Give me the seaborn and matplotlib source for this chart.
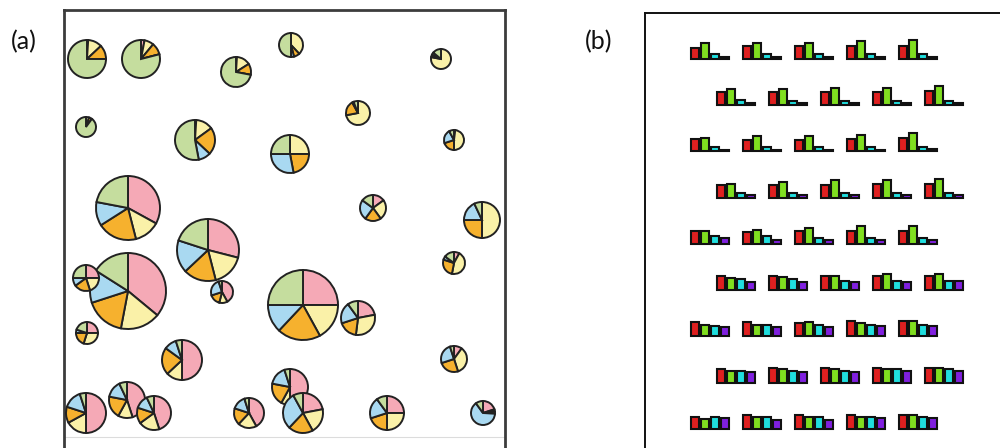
import matplotlib
matplotlib.use("Agg")
import matplotlib.pyplot as plt
import seaborn as sns
import pandas as pd

sns.set_theme(style="white")
plt.rcParams["font.family"] = ["Lato", "DejaVu Sans"]

# ---------------- panel (a): pie glyphs ----------------
# centre (x, y), radius, and wedge shares (pink, yellow, orange, blue, green)
pie_x = [23, 77, 172, 227, 22, 131, 226, 377, 294, 390, 309, 418, 64, 144,
         64, 22, 158, 23, 118, 22, 63, 90, 185, 226, 239, 294, 390, 390,
         239, 323, 419]
pie_y = [401, 401, 388, 415, 333, 320, 306, 401, 347, 320, 252, 240, 252, 210,
         169, 182, 168, 127, 100, 47, 60, 47, 47, 73, 155, 142, 197, 101,
         47, 47, 47]
pie_r = [19, 19, 15, 12, 10, 20, 19, 10, 12, 10, 13, 18, 32, 31,
         38, 13, 11, 11, 20, 20, 18, 17, 15, 18, 35, 17, 11, 13,
         20, 17, 12]
share_pink = [0.01, 0.03, 0.01, 0.00, 0.00, 0.01, 0.00, 0.00, 0.00, 0.02, 0.15, 0.00, 0.33, 0.29,
              0.36, 0.25, 0.42, 0.25, 0.50, 0.50, 0.45, 0.45, 0.42, 0.50, 0.25, 0.22, 0.08, 0.10,
              0.22, 0.25, 0.20]
share_yellow = [0.12, 0.08, 0.15, 0.38, 0.05, 0.14, 0.25, 0.78, 0.72, 0.48, 0.25, 0.50, 0.13, 0.17,
                0.17, 0.20, 0.12, 0.30, 0.13, 0.17, 0.13, 0.20, 0.20, 0.08, 0.17, 0.30, 0.45, 0.35,
                0.20, 0.25, 0.03]
share_orange = [0.12, 0.10, 0.12, 0.08, 0.05, 0.22, 0.22, 0.04, 0.20, 0.20, 0.20, 0.25, 0.20, 0.17,
                0.17, 0.20, 0.16, 0.20, 0.22, 0.13, 0.20, 0.15, 0.18, 0.20, 0.20, 0.18, 0.27, 0.25,
                0.20, 0.20, 0.03]
share_blue = [0.00, 0.00, 0.00, 0.04, 0.00, 0.10, 0.28, 0.04, 0.02, 0.22, 0.25, 0.18, 0.12, 0.17,
              0.14, 0.10, 0.25, 0.05, 0.10, 0.15, 0.15, 0.13, 0.15, 0.17, 0.13, 0.20, 0.05, 0.25,
              0.30, 0.20, 0.64]
share_green = [0.75, 0.79, 0.72, 0.50, 0.90, 0.53, 0.25, 0.14, 0.06, 0.08, 0.15, 0.07, 0.22, 0.20,
               0.16, 0.25, 0.05, 0.20, 0.05, 0.05, 0.07, 0.07, 0.05, 0.05, 0.25, 0.10, 0.15, 0.05,
               0.08, 0.10, 0.10]
pie_colors = ["#F5A9B6", "#FAF1A8", "#F6B12E", "#A9D9F1", "#C5DD9E"]

# ---------------- panel (b): bar glyphs (9 rows x 5 glyphs) ----------------
bar_red = [[11.0, 12.7, 12.7, 12.7, 12.7],
           [12.7, 12.7, 12.7, 12.7, 14.3],
           [12.3, 11.7, 11.7, 12.3, 13.3],
           [12.3, 12.3, 12.3, 14.0, 14.0],
           [12.7, 12.0, 13.3, 13.3, 13.3],
           [14.3, 14.3, 14.3, 14.3, 14.3],
           [14.0, 14.0, 13.3, 15.0, 15.0],
           [14.0, 15.0, 15.0, 15.0, 15.0],
           [12.3, 14.0, 14.0, 14.0, 14.0]]
bar_green = [[16.0, 16.0, 16.0, 17.3, 18.7],
             [16.0, 16.0, 17.3, 17.3, 18.7],
             [13.3, 15.0, 15.0, 16.7, 18.0],
             [13.3, 15.7, 17.3, 17.3, 18.3],
             [12.7, 13.7, 16.0, 17.7, 17.7],
             [12.0, 12.7, 14.3, 16.0, 16.0],
             [11.7, 11.7, 14.0, 13.3, 15.0],
             [11.7, 13.3, 13.3, 13.3, 15.0],
             [10.0, 12.3, 12.3, 11.7, 14.0]]
bar_cyan = [[4.3, 4.3, 4.3, 4.3, 4.3],
            [5.0, 4.3, 4.3, 4.3, 4.3],
            [4.3, 4.3, 4.3, 4.3, 4.3],
            [5.0, 4.3, 4.3, 4.3, 4.3],
            [7.7, 7.7, 6.0, 6.0, 6.0],
            [10.7, 10.7, 9.3, 9.3, 9.3],
            [10.0, 11.7, 11.7, 11.7, 11.7],
            [11.7, 11.7, 11.7, 13.3, 13.3],
            [11.7, 12.3, 12.3, 12.3, 12.3]]
bar_purple = [[2.0, 2.0, 2.0, 2.0, 2.0],
              [2.0, 2.0, 2.0, 2.0, 2.0],
              [1.5, 1.5, 1.5, 1.5, 2.3],
              [2.7, 2.7, 2.7, 2.7, 2.7],
              [6.0, 4.3, 4.3, 4.3, 4.3],
              [7.7, 7.7, 7.7, 7.7, 9.3],
              [9.0, 9.0, 9.0, 10.0, 10.0],
              [10.7, 10.7, 10.7, 11.7, 11.7],
              [10.7, 9.0, 9.0, 10.7, 10.7]]
bar_names = ["r", "g", "c", "p"]
bar_colors = ["#FF0000", "#80FF00", "#00FFFF", "#8000FF"]

W, H = 1000, 448
fig = plt.figure(figsize=(W / 100, H / 100), dpi=100)


def fig_box(x0, y_top, w, h):
    """Pixel box (top-left origin) to figure fractions."""
    return [x0 / W, (H - y_top - h) / H, w / W, h / H]


# ---- panel (a)
ax_a = fig.add_axes(fig_box(64, 10, 441, 450))
for side in ("left", "top", "right"):
    ax_a.spines[side].set_color("#3c3c3c")
    ax_a.spines[side].set_linewidth(2.0)
ax_a.spines["bottom"].set_visible(False)
ax_a.axhline(23, color="#dcdcdc", lw=0.8, zorder=0)

for i in range(len(pie_x)):
    shares = [share_pink[i], share_yellow[i], share_orange[i],
              share_blue[i], share_green[i]]
    wedges, _ = ax_a.pie(shares, colors=pie_colors, center=(pie_x[i], pie_y[i]),
                         radius=pie_r[i], startangle=90, counterclock=False,
                         frame=True, normalize=True,
                         wedgeprops=dict(edgecolor="#222222", linewidth=1.4))
    for w in wedges:
        w.set_zorder(2 + i)
ax_a.set_xlim(0, 441)
ax_a.set_ylim(0, 450)
ax_a.set_aspect("equal")
ax_a.set_xticks([])
ax_a.set_yticks([])

# ---- panel (b) frame
ax_b = fig.add_axes(fig_box(645, 13, 400, 460))
ax_b.set_xticks([])
ax_b.set_yticks([])
ax_b.patch.set_alpha(0)
for side in ("right", "bottom"):
    ax_b.spines[side].set_visible(False)
for side in ("left", "top"):
    ax_b.spines[side].set_color("#111111")
    ax_b.spines[side].set_linewidth(1.4)

# ---- panel (b) glyphs
col_step, row_step = 52.0, 46.3
for r in range(9):
    for c in range(5):
        x0 = 690 + (26 if r % 2 else 0) + col_step * c
        base = 58.7 + row_step * r
        df = pd.DataFrame({"bar": bar_names,
                           "value": [bar_red[r][c], bar_green[r][c],
                                     bar_cyan[r][c], bar_purple[r][c]]})
        iax = fig.add_axes(fig_box(x0, base - 20, 40, 20))
        sns.barplot(data=df, x="bar", y="value", hue="bar",
                    palette=dict(zip(bar_names, bar_colors)), width=0.86,
                    edgecolor="#111111", linewidth=1.5, legend=False, ax=iax)
        iax.set_xlim(-0.5, 3.5)
        iax.set_ylim(0, 20)
        iax.axis("off")
        for p in iax.patches:
            p.set_clip_on(False)

fig.text(24 / W, 1 - 42 / H, "(a)", fontsize=18, ha="center", va="center",
         color="#111111")
fig.text(599 / W, 1 - 42 / H, "(b)", fontsize=18, ha="center", va="center",
         color="#111111")

fig.savefig("out.png", dpi=100)
